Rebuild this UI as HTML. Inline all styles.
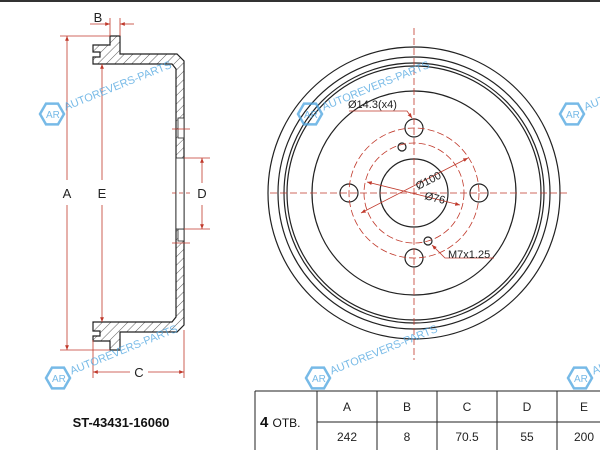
<!DOCTYPE html>
<html><head><meta charset="utf-8"><style>
html,body{margin:0;padding:0;background:#fff;width:600px;height:450px;overflow:hidden}
svg{display:block}
text{font-family:"Liberation Sans",sans-serif}
</style></head><body>
<svg width="600" height="450" viewBox="0 0 600 450" xmlns="http://www.w3.org/2000/svg">
<defs>
<pattern id="h" width="6" height="6" patternUnits="userSpaceOnUse" patternTransform="rotate(45)">
<rect width="6" height="6" fill="#fff"/><line x1="0" y1="0" x2="0" y2="6" stroke="#333" stroke-width="0.8"/>
</pattern>
<marker id="ar" viewBox="0 0 10 10" refX="10" refY="5" markerWidth="6" markerHeight="6" orient="auto-start-reverse"><path d="M0,1 L10,5 L0,9 z" fill="#c0392b"/></marker>
<g id="wm" opacity="0.75">
<polygon points="-12,0 -6,-10.4 6,-10.4 12,0 6,10.4 -6,10.4" fill="none" stroke="#4aa3df" stroke-width="2.5"/>
<text x="-6" y="4" font-size="10" fill="#4aa3df">AR</text>
<text x="14" y="2" font-size="11" fill="#4aa3df" transform="rotate(-22)">AUTOREVERS-PARTS</text>
</g>
</defs>
<rect x="0" y="0" width="600" height="2" fill="#333"/>
<polygon points="110,36 120,36 120,54 177,54 184,61 184,325 177,332 120,332 120,350 110,350 110,341 93,341 93,336 100,336 100,331 93,331 93,322 172,322 176,317 176,69 172,64 93,64 93,57 100,57 100,52 93,52 93,45 110,45" fill="url(#h)" stroke="#222" stroke-width="1.2"/>
<rect x="178" y="118" width="6" height="20" fill="#fff" stroke="#222" stroke-width="0.8"/>
<rect x="178" y="229" width="6" height="12" fill="#fff" stroke="#222" stroke-width="0.8"/>
<rect x="176" y="158" width="8" height="71" fill="#fff" stroke="#222" stroke-width="0.8"/>
<g stroke="#c0392b" stroke-width="0.8" fill="none">
<line x1="60" y1="36" x2="110" y2="36"/><line x1="60" y1="350" x2="110" y2="350"/>
<line x1="67" y1="36" x2="67" y2="180" marker-start="url(#ar)"/><line x1="67" y1="205" x2="67" y2="350" marker-end="url(#ar)"/>
<line x1="102" y1="64" x2="102" y2="180" marker-start="url(#ar)"/><line x1="102" y1="205" x2="102" y2="322" marker-end="url(#ar)"/>
<line x1="184" y1="158" x2="210" y2="158"/><line x1="184" y1="229" x2="210" y2="229"/>
<line x1="202" y1="158" x2="202" y2="183" marker-start="url(#ar)"/><line x1="202" y1="205" x2="202" y2="229" marker-end="url(#ar)"/>
<line x1="93" y1="340" x2="93" y2="378"/><line x1="184" y1="330" x2="184" y2="378"/>
<line x1="93" y1="372" x2="130" y2="372" marker-start="url(#ar)"/><line x1="148" y1="372" x2="184" y2="372" marker-end="url(#ar)"/>
<line x1="110" y1="18" x2="110" y2="36"/><line x1="120" y1="18" x2="120" y2="36"/>
<line x1="90" y1="24" x2="110" y2="24" marker-end="url(#ar)"/><line x1="134" y1="24" x2="120" y2="24" marker-end="url(#ar)"/>
<line x1="172" y1="129" x2="190" y2="129"/><line x1="172" y1="193" x2="190" y2="193" stroke-dasharray="4 3"/><line x1="172" y1="243" x2="190" y2="243"/>
</g>
<g font-size="13" fill="#222" text-anchor="middle">
<text x="67" y="198">A</text><text x="102" y="198">E</text><text x="202" y="198">D</text><text x="139" y="377">C</text><text x="98" y="22">B</text>
</g>
<g fill="none" stroke="#222" stroke-width="1.2">
<circle cx="414" cy="193" r="146"/>
<circle cx="414" cy="193" r="136"/>
<circle cx="414" cy="193" r="130"/>
<circle cx="414" cy="193" r="127"/>
<circle cx="414" cy="193" r="102"/>
<circle cx="414" cy="193" r="34"/>
<circle cx="414" cy="128" r="9"/><circle cx="414" cy="258" r="9"/>
<circle cx="349" cy="193" r="9"/><circle cx="479" cy="193" r="9"/>
<circle cx="402" cy="147" r="4"/><circle cx="428" cy="241" r="4"/>
</g>
<g fill="none" stroke="#c0392b" stroke-width="0.8" stroke-dasharray="7 3">
<line x1="414" y1="28" x2="414" y2="360"/><line x1="270" y1="193" x2="570" y2="193"/>
<circle cx="414" cy="193" r="65"/><circle cx="414" cy="193" r="50"/>
</g>
<g stroke="#c0392b" stroke-width="0.8" fill="none">
<line x1="361" y1="213" x2="468" y2="158" marker-start="url(#ar)" marker-end="url(#ar)"/>
<line x1="367" y1="182" x2="460" y2="205" marker-start="url(#ar)" marker-end="url(#ar)"/>
<polyline points="349,111 407,111 412,118" marker-end="url(#ar)"/>
<polyline points="494,258 445,258 432,245" marker-end="url(#ar)"/>
</g>
<g font-size="11" fill="#222">
<text x="348" y="108">Ø14.3(x4)</text>
<text x="448" y="258">M7x1.25</text>
<text x="418" y="190" transform="rotate(-27 418 190)">Ø100</text>
<text x="424" y="199" transform="rotate(14 424 199)">Ø76</text>
</g>
<use href="#wm" x="52" y="114"/><use href="#wm" x="310" y="114"/><use href="#wm" x="572" y="114"/>
<use href="#wm" x="58" y="378"/><use href="#wm" x="318" y="378"/><use href="#wm" x="580" y="378"/>
<text x="121" y="427" font-size="13" font-weight="bold" fill="#111" text-anchor="middle">ST-43431-16060</text>
<g stroke="#222" stroke-width="1" fill="none">
<line x1="255" y1="391" x2="600" y2="391"/><line x1="317" y1="422" x2="600" y2="422"/>
<line x1="255" y1="391" x2="255" y2="450"/><line x1="317" y1="391" x2="317" y2="450"/>
<line x1="377" y1="391" x2="377" y2="450"/><line x1="437" y1="391" x2="437" y2="450"/>
<line x1="497" y1="391" x2="497" y2="450"/><line x1="557" y1="391" x2="557" y2="450"/>
</g>
<text x="260" y="427" font-size="15" font-weight="bold" fill="#111">4 <tspan font-size="12" font-weight="normal">ОТВ.</tspan></text>
<g font-size="12" fill="#222" text-anchor="middle">
<text x="347" y="411">A</text><text x="407" y="411">B</text><text x="467" y="411">C</text><text x="527" y="411">D</text><text x="584" y="411">E</text>
<text x="347" y="441">242</text><text x="407" y="441">8</text><text x="467" y="441">70.5</text><text x="527" y="441">55</text><text x="584" y="441">200</text>
</g>
</svg>
</body></html>
